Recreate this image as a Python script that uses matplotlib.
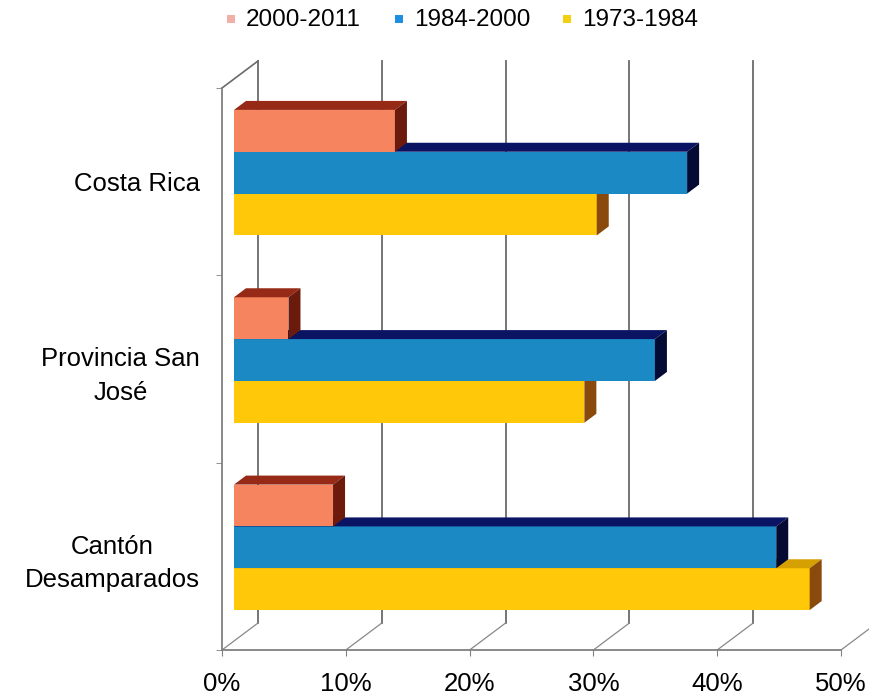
import matplotlib.pyplot as plt
from matplotlib.patches import Polygon, Rectangle

# data (percent)
categories = ["Costa Rica", "Provincia San\nJosé", "Cantón\nDesamparados"]
periods = ["2000-2011", "1984-2000", "1973-1984"]
v_2000_2011 = [13.0, 4.4, 8.0]
v_1984_2000 = [36.6, 34.0, 43.8]
v_1973_1984 = [29.3, 28.3, 46.5]
x_ticks = [0, 10, 20, 30, 40, 50]
x_labels = ["0%", "10%", "20%", "30%", "40%", "50%"]

series = [v_2000_2011, v_1984_2000, v_1973_1984]
front_col = ["#F5845F", "#1B8AC4", "#FFC90A"]
top_col = ["#962A16", "#0B1463", "#D6A000"]
side_col = ["#6B1A0C", "#050A35", "#8A4A0C"]
legend_col = ["#F2AFA5", "#1E8FDF", "#F3CF10"]

plt.rcParams["font.family"] = ["Liberation Sans", "DejaVu Sans"]

W, H = 870, 695
fig = plt.figure(figsize=(W / 100, H / 100), dpi=100)
ax = fig.add_axes([222 / W, 1 - 650 / H, 619 / W, 562 / H])
ax.set_xlim(0, 50)
ax.set_ylim(0, 3)

# pixel -> data units
px_x = 50 / 619
px_y = 3 / 562
wall_dx, wall_dy = 36 * px_x, 27 * px_y
bar_dx, bar_dy = 12 * px_x, 9 * px_y

grid = "#6a6a6a"
# back wall gridlines and floor diagonals
for t in x_ticks:
    ax.plot([t + wall_dx] * 2, [wall_dy, 3 + wall_dy], color=grid, lw=1.3,
            clip_on=False, zorder=1)
    ax.plot([t, t + wall_dx], [0, wall_dy], color="#888888", lw=0.9,
            clip_on=False, zorder=1)
ax.plot([0, wall_dx], [3, 3 + wall_dy], color=grid, lw=1.2, clip_on=False, zorder=1)

# 3D bars
pos = [2.5, 1.5, 0.5]
h = 0.2233
offs = [h, 0, -h]
for c, yc in enumerate(pos):
    for s in [2, 1, 0]:
        v = series[s][c]
        z = 5 - s
        y0 = yc + offs[s] - h / 2 + bar_dy
        y1 = y0 + h
        x0 = bar_dx
        x1 = x0 + v
        ax.barh(y0 + h / 2, v, height=h, left=x0, color=front_col[s],
                zorder=z)
        ax.add_patch(Polygon([(x0, y1), (x1, y1), (x1 + bar_dx, y1 + bar_dy),
                              (x0 + bar_dx, y1 + bar_dy)],
                             closed=True, facecolor=top_col[s], edgecolor="none",
                             zorder=z))
        ax.add_patch(Polygon([(x1, y0), (x1, y1), (x1 + bar_dx, y1 + bar_dy),
                              (x1 + bar_dx, y0 + bar_dy)],
                             closed=True, facecolor=side_col[s], edgecolor="none",
                             zorder=z))

for sp in ["top", "right"]:
    ax.spines[sp].set_visible(False)
for sp in ["left", "bottom"]:
    ax.spines[sp].set_color("#808080")
    ax.spines[sp].set_linewidth(1.3)

ax.set_yticks(pos)
ax.set_yticklabels(categories, fontsize=18.5, multialignment="center",
                   linespacing=1.5)
ax.set_yticks([0, 1, 2, 3], minor=True)
ax.tick_params(axis="y", which="major", length=0, pad=16)
ax.tick_params(axis="y", which="minor", length=4, color="#808080")
ax.set_xticks(x_ticks)
ax.set_xticklabels(x_labels, fontsize=18.5)
ax.tick_params(axis="x", length=4, color="#808080", pad=12)

# legend
leg_x = [227, 395, 563]
for i, name in enumerate(periods):
    fig.patches.append(Rectangle(((leg_x[i]) / W, 1 - 23 / H), 8 / W, 8 / H,
                                 transform=fig.transFigure, facecolor=legend_col[i],
                                 edgecolor="none"))
    fig.text((leg_x[i] + 19) / W, 1 - 20 / H, name, fontsize=17.5, va="center",
             ha="left")

fig.savefig("out.png", dpi=100)
